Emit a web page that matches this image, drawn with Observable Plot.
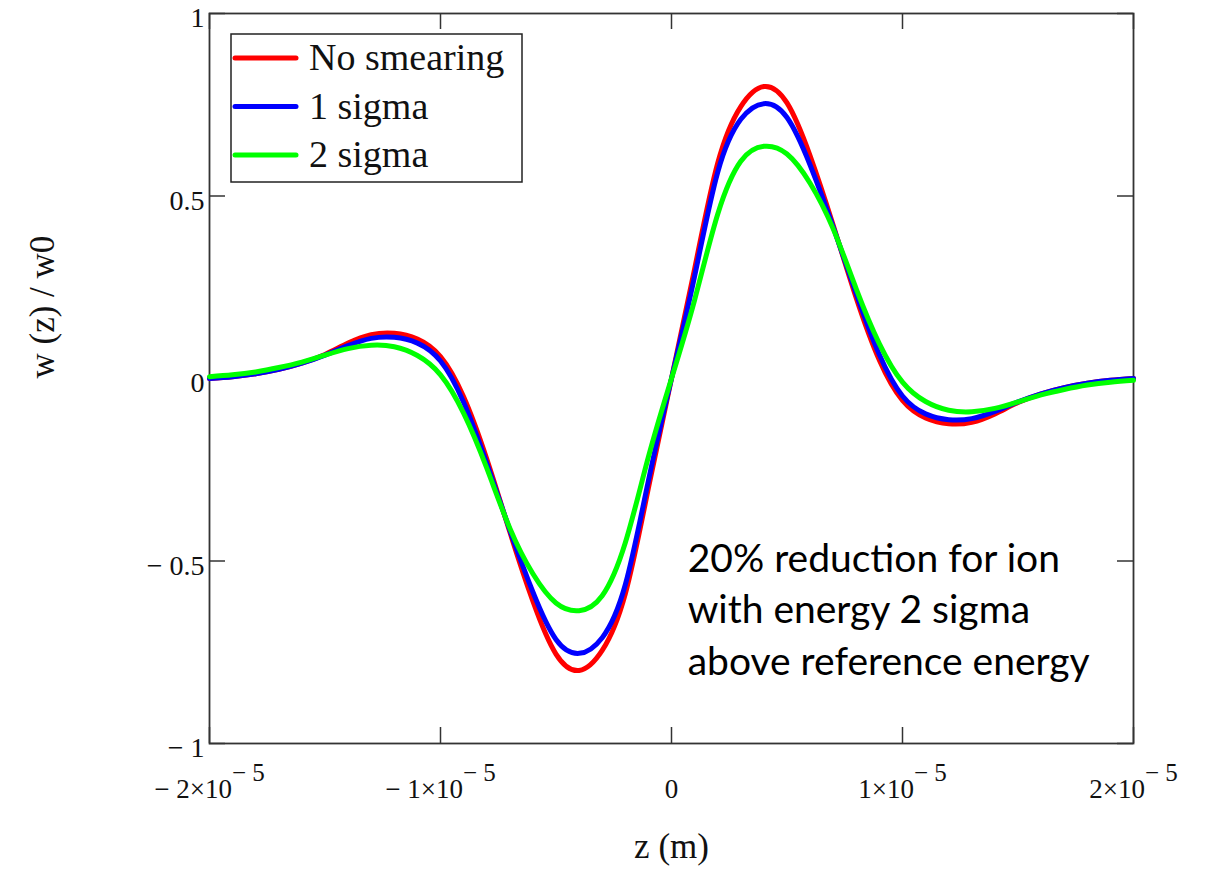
<!DOCTYPE html>
<html>
<head>
<meta charset="utf-8">
<script src="https://cdn.jsdelivr.net/npm/d3@7"></script>
<script src="https://cdn.jsdelivr.net/npm/@observablehq/plot@0.6"></script>
<style>
  html, body { margin: 0; padding: 0; background: #fff; }
  #wrap { position: relative; width: 1209px; height: 877px; overflow: hidden; }
  #legend { position: absolute; left: 0; top: 0; }
</style>
</head>
<body>
<div id="wrap"></div>
<script>
// z positions (in units of 1e-6 m)
const zMicro = [-20,-19,-18,-17,-16,-15,-14,-13,-12,-11,-10,-9,-8,-7,-6,-5,-4,-3,-2,-1,0,
                1,2,3,4,5,6,7,8,9,10,11,12,13,14,15,16,17,18,19,20];
const seriesNames = ["No smearing", "1 sigma", "2 sigma"];
const seriesColors = ["#ff0000", "#0000ff", "#00ff00"];
const noSmearing = [0.0,0.005,0.013,0.025,0.042,0.066,0.097,0.12,0.124,0.108,0.06,-0.05,-0.22,-0.42,-0.61,-0.755,-0.80,-0.745,-0.59,-0.30,0,
                    0.30,0.59,0.745,0.80,0.755,0.61,0.42,0.22,0.05,-0.06,-0.108,-0.124,-0.12,-0.097,-0.066,-0.042,-0.025,-0.013,-0.005,0.0];
const oneSigma   = [0.0,0.005,0.013,0.025,0.042,0.064,0.09,0.11,0.113,0.097,0.048,-0.065,-0.232,-0.415,-0.585,-0.715,-0.753,-0.71,-0.565,-0.28,0,
                    0.28,0.565,0.71,0.753,0.715,0.585,0.415,0.232,0.065,-0.048,-0.097,-0.113,-0.11,-0.09,-0.064,-0.042,-0.025,-0.013,-0.005,0.0];
const twoSigma   = [0.005,0.01,0.018,0.03,0.045,0.064,0.082,0.091,0.087,0.063,0.01,-0.095,-0.245,-0.41,-0.535,-0.615,-0.636,-0.595,-0.45,-0.215,0,
                    0.215,0.45,0.595,0.636,0.615,0.535,0.41,0.245,0.095,-0.01,-0.063,-0.087,-0.091,-0.082,-0.064,-0.045,-0.03,-0.018,-0.01,-0.005];
const xTicks = [-2e-5, -1e-5, 0, 1e-5, 2e-5];
const yTicks = [-1, -0.5, 0, 0.5, 1];
const xLabel = "z (m)";
const yLabel = "w (z) / w0";
const note = "20% reduction for ion\nwith energy 2 sigma\nabove reference energy";

const seriesValues = [noSmearing, oneSigma, twoSigma];
const data = [];
seriesNames.forEach((name, i) => {
  zMicro.forEach((z, j) => data.push({series: name, z: z * 1e-6, w: seriesValues[i][j]}));
});

const W = 1209, H = 877, mL = 209, mR = 76, mT = 13, mB = 134;
const pw = W - mL - mR, ph = H - mT - mB, tk = 16;
const serif = "'Liberation Serif', 'Times New Roman', serif";
const fmtY = v => v === 0 ? "0" : (v < 0 ? "\u2212 " : "") + Math.abs(v);
const fmtX = v => v === 0 ? "0" : (v < 0 ? "\u2212 " : "") + Math.round(Math.abs(v) / 1e-5) + "\u00d710^\u2212 5";

const chart = Plot.plot({
  width: W, height: H,
  marginLeft: mL, marginRight: mR, marginTop: mT, marginBottom: mB,
  x: {domain: [-2e-5, 2e-5]},
  y: {domain: [-1, 1]},
  color: {domain: seriesNames, range: seriesColors},
  style: {fontFamily: serif, background: "white", color: "#111"},
  marks: [
    Plot.axisY(yTicks, {tickSize: 0, tickPadding: 5, fontSize: 28, tickFormat: fmtY, dy: 5, label: null}),
    Plot.axisX(xTicks, {tickSize: 0, tickPadding: 35, fontSize: 27, tickFormat: fmtX, label: null}),
    Plot.tickY(yTicks, {y: d => d, insetRight: pw - tk, stroke: "#333", strokeWidth: 1.5}),
    Plot.tickY(yTicks, {y: d => d, insetLeft: pw - tk, stroke: "#333", strokeWidth: 1.5}),
    Plot.tickX(xTicks, {x: d => d, insetTop: ph - tk, stroke: "#333", strokeWidth: 1.5}),
    Plot.tickX(xTicks, {x: d => d, insetBottom: ph - tk, stroke: "#333", strokeWidth: 1.5}),
    Plot.frame({stroke: "#333", strokeWidth: 1.8}),
    Plot.line(data, {x: "z", y: "w", z: "series", stroke: "series", strokeWidth: 5, curve: "natural", strokeLinecap: "round"}),
    Plot.text([note], {x: 0.07e-5, y: -0.428, text: d => d, textAnchor: "start", lineAnchor: "top",
      fontSize: 39, lineHeight: 1.33, fontFamily: "Lato, 'Open Sans', sans-serif", fill: "#000"}),
    Plot.text([yLabel], {text: d => d, frameAnchor: "left", dx: -167, rotate: -90, fontSize: 35, fill: "#111"}),
    Plot.text([xLabel], {text: d => d, frameAnchor: "bottom", dy: 114, fontSize: 35, fill: "#111"})
  ]
});

document.getElementById("wrap").appendChild(chart);

// superscript exponents on x tick labels
d3.select(chart).selectAll('g[aria-label="x-axis tick label"] text').each(function() {
  const t = d3.select(this);
  const s = t.text();
  if (s.includes("^")) {
    const [base, exp] = s.split("^");
    t.text(null);
    t.append("tspan").text(base);
    t.append("tspan").attr("dy", "-0.65em").attr("font-size", 25).text(exp);
  }
});

// legend
const lg = d3.select("#wrap").append("svg").attr("id", "legend")
  .attr("width", W).attr("height", 200).style("pointer-events", "none");
lg.append("rect").attr("x", 231).attr("y", 34).attr("width", 291).attr("height", 148)
  .attr("fill", "white").attr("stroke", "#222").attr("stroke-width", 1.5);
seriesNames.forEach((name, i) => {
  const y = 58 + i * 48.5;
  lg.append("line").attr("x1", 235).attr("x2", 296).attr("y1", y).attr("y2", y)
    .attr("stroke", seriesColors[i]).attr("stroke-width", 5).attr("stroke-linecap", "round");
  lg.append("text").attr("x", 309).attr("y", y + 12).attr("font-family", serif)
    .attr("font-size", 38).attr("fill", "#111").text(name);
});
</script>
</body>
</html>
